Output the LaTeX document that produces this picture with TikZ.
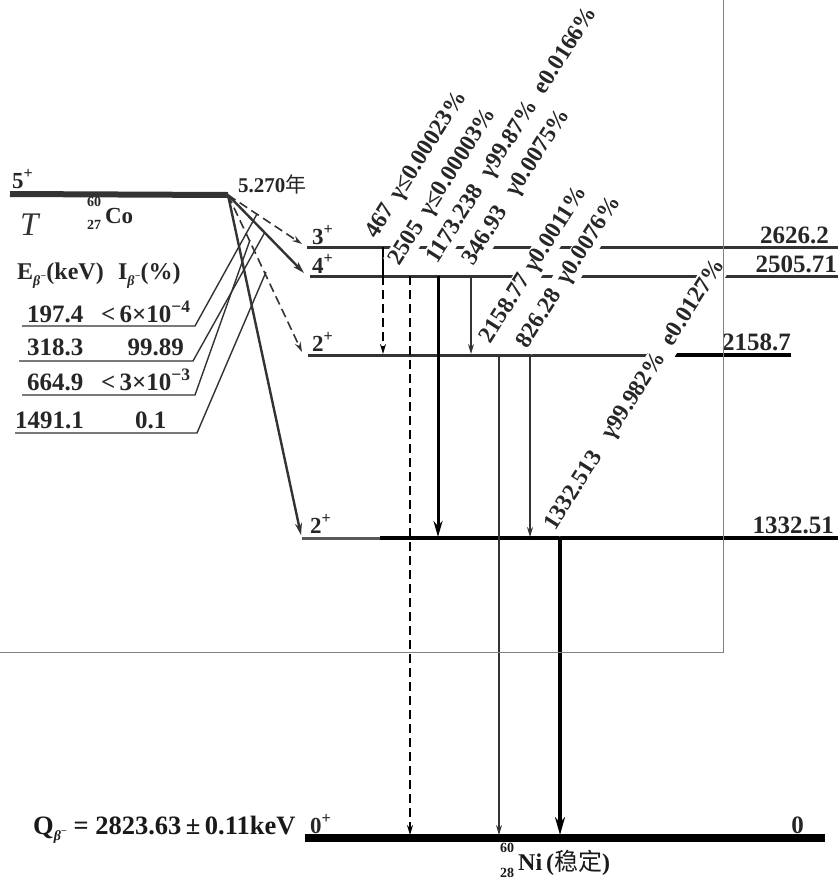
\documentclass[tikz,border=0pt]{standalone}
\usepackage{fontspec}
\setmainfont{Liberation Serif}
\newfontfamily\cjk{Noto Sans CJK SC}
\usetikzlibrary{arrows.meta}
\definecolor{dk}{HTML}{333333}
\definecolor{fr}{HTML}{808080}
\newcommand{\nucl}[2]{\makebox[0pt][l]{\raisebox{0.72em}{\fontsize{14}{14}\selectfont #1}}\raisebox{-0.3em}{\fontsize{14}{14}\selectfont #2}\,}
\newcommand{\bsub}{\raisebox{-6pt}{\fontsize{14}{14}\selectfont\itshape β\raisebox{6pt}{\fontsize{10}{10}\selectfont −}}}
\begin{document}
\begin{tikzpicture}[x=1pt,y=-1pt,
  lev/.style={line width=3pt,draw=dk},
  thinarr/.style={line width=1.3pt,draw=dk,-{Stealth[length=10pt,width=6pt]}},
  thickarr/.style={line width=3pt,draw=black,-{Stealth[length=16pt,width=9pt]}},
  dasharr/.style={line width=1.6pt,draw=black,dash pattern=on 9pt off 5pt,-{Stealth[length=10pt,width=6pt]}},
  conn/.style={line width=1.4pt,draw=dk},
  rl/.style={font=\fontsize{23.5}{25}\selectfont\bfseries,rotate=57.5,anchor=base west,fill=white,inner sep=2pt,text=black!85},
  txt/.style={font=\fontsize{25}{27}\selectfont\bfseries,anchor=base west,inner sep=0pt,text=black!85},
  txe/.style={txt,anchor=base east},
  spin/.style={font=\fontsize{23}{25}\selectfont\bfseries,anchor=base west,inner sep=0pt,text=black!85}]
\useasboundingbox (0,0) rectangle (839,879);

% ---------- coordinates ----------
\coordinate (p0) at (10,194);
\coordinate (apex) at (228,195);
\coordinate (l3a) at (307,247);  \coordinate (l3b) at (838,247);
\coordinate (l4a) at (310,276);  \coordinate (l4b) at (838,276);
\coordinate (l2a) at (308,355);  \coordinate (l2b) at (791,355);
\coordinate (l2m) at (647,355);
\coordinate (l1a) at (302,538);  \coordinate (l1m) at (380,538); \coordinate (l1b) at (838,538);
\coordinate (l0a) at (305,838);  \coordinate (l0b) at (825,838);

% ---------- parent level ----------
\draw[line width=6pt,draw=dk] (p0) -- (apex);

% ---------- daughter levels ----------
\draw[lev] (l3a) -- (l3b);
\draw[lev] (l4a) -- (l4b);
\draw[lev] (l2a) -- (l2b);
\draw[line width=3.5pt,black] (l2m) -- (l2b);
\draw[lev,draw=black!65] (l1a) -- (l1m);
\draw[line width=4pt,black] (l1m) -- (l1b);
\draw[line width=8pt,black] (l0a) -- (l0b);

% ---------- beta branches ----------
\coordinate (b3) at (302,244);
\coordinate (b4) at (304,273);
\coordinate (b2) at (302,352);
\coordinate (b1) at (301,535);
\draw[dasharr,draw=dk] (apex) -- (b3);
\draw[line width=2.4pt,draw=dk,-{Stealth[length=12pt,width=7pt]}] (apex) -- (b4);
\draw[dasharr,draw=dk] (apex) -- (b2);
\draw[line width=2.4pt,draw=dk,-{Stealth[length=12pt,width=7pt]}] (apex) -- (b1);

% ---------- gamma transitions ----------
\coordinate (g1t) at (383,247); \coordinate (g1m) at (383,276); \coordinate (g1b) at (383,354);
\draw[line width=1.6pt,black] (g1t) -- (g1m);
\draw[dasharr] (g1m) -- (g1b);
\coordinate (g2t) at (410,276); \coordinate (g2b) at (410,835);
\draw[dasharr] (g2t) -- (g2b);
\coordinate (g3t) at (438,276); \coordinate (g3b) at (438,537);
\draw[thickarr] (g3t) -- (g3b);
\coordinate (g4t) at (471,276); \coordinate (g4b) at (471,354);
\draw[thinarr] (g4t) -- (g4b);
\coordinate (g5t) at (499,355); \coordinate (g5b) at (499,835);
\draw[thinarr] (g5t) -- (g5b);
\coordinate (g6t) at (530,355); \coordinate (g6b) at (530,537);
\draw[thinarr] (g6t) -- (g6b);
\coordinate (g7t) at (560,538); \coordinate (g7b) at (560,835);
\draw[line width=4pt,black,-{Stealth[length=18pt,width=10pt]}] (g7t) -- (g7b);

% ---------- rotated gamma labels ----------
\node[rl] (t467) at (375,241) {467\hspace{.4em}γ≤0.00023\%};
\node[rl] (t2505) at (398,268) {2505\hspace{.45em}γ≤0.00003\%};
\node[rl] (t1173) at (436,266) {1173.238\hspace{.6em}γ99.87\%\hspace{.5em}e0.0166\%};
\node[rl] (t346) at (472,268) {346.93\hspace{.7em}γ0.0075\%};
\node[rl] (t2158) at (489,346) {2158.77\hspace{.3em}γ0.0011\%};
\node[rl] (t826) at (526,351) {826.28\hspace{.45em}γ0.0076\%};
\node[rl] (t1332) at (554,533) {1332.513\hspace{.8em}γ99.982\%\hspace{.5em}e0.0127\%};

% ---------- spins and energies ----------
\node[spin] (s5) at (12,188) {5\textsuperscript{+}};
\node[spin] (s3) at (312,244) {3\textsuperscript{+}};
\node[spin] (s4) at (312,273) {4\textsuperscript{+}};
\node[spin] (s2a) at (312,351) {2\textsuperscript{+}};
\node[spin] (s2b) at (310,533) {2\textsuperscript{+}};
\node[spin] (s0) at (310,833) {0\textsuperscript{+}};
\node[txe] (e3) at (829,243) {2626.2};
\node[txe] (e4) at (837,272) {2505.71};
\node[txe] (e2) at (791,350) {2158.7};
\node[txe] (e1) at (834,533) {1332.51};
\node[txe] (e0) at (804,833) {0};

% ---------- parent texts ----------
\node[anchor=base west,inner sep=0pt,font=\fontsize{21}{23}\selectfont\bfseries,text=black!85] (hl) at (238,192) {5.270{\cjk\mdseries 年}};
\node[anchor=base west,inner sep=0pt,font=\fontsize{33}{35}\selectfont\itshape,text=black!80] (tt) at (20,235) {T};
\node[anchor=base west,inner sep=0pt,font=\fontsize{23}{25}\selectfont\bfseries,text=black!85] (co) at (87,223) {\nucl{60}{27}Co};
\node[anchor=base west,inner sep=0pt,font=\fontsize{24}{26}\selectfont\bfseries,text=black!85] (hdr) at (17,279) {E\bsub(keV)\hspace{.6em}I\bsub(\%)};

% ---------- branch table ----------
\node[txt] (r1e) at (27,322) {197.4};
\node[txt] (r1i) at (101,322) {<\,6×10\textsuperscript{−4}};
\node[txt] (r2e) at (27,355) {318.3};
\node[txe] (r2i) at (184,355) {99.89};
\node[txt] (r3e) at (27,390) {664.9};
\node[txt] (r3i) at (101,390) {<\,3×10\textsuperscript{−3}};
\node[txt] (r4e) at (15,428) {1491.1};
\node[txt] (r4i) at (135,428) {0.1};

\coordinate (r1a) at (22,326); \coordinate (r1b) at (195,326); \coordinate (r1c) at (257,214);
\coordinate (r2a) at (19,361); \coordinate (r2b) at (193,361); \coordinate (r2c) at (265,232);
\coordinate (r3a) at (22,395); \coordinate (r3b) at (195,395); \coordinate (r3c) at (250,240);
\coordinate (r4a) at (15,433); \coordinate (r4b) at (197,433); \coordinate (r4c) at (266,272);
\draw[conn] (r1a) -- (r1b) -- (r1c);
\draw[conn] (r2a) -- (r2b) -- (r2c);
\draw[conn] (r3a) -- (r3b) -- (r3c);
\draw[conn] (r4a) -- (r4b) -- (r4c);

% ---------- bottom texts ----------
\node[anchor=base west,inner sep=0pt,font=\fontsize{26.5}{28}\selectfont\bfseries,text=black!90] (q) at (33,834) {Q\bsub\ = 2823.63\,±\,0.11keV};
\node[anchor=base west,inner sep=0pt,font=\fontsize{24}{26}\selectfont\bfseries,text=black!90] (ni) at (500,870) {\nucl{60}{28}Ni\,({\cjk\mdseries 稳定})};

% ---------- frame ----------
\coordinate (f1) at (723,0); \coordinate (f2) at (723,652); \coordinate (f3) at (0,652);
\draw[line width=1pt,fr] (f1) -- (f2) -- (f3);
\end{tikzpicture}
\end{document}
